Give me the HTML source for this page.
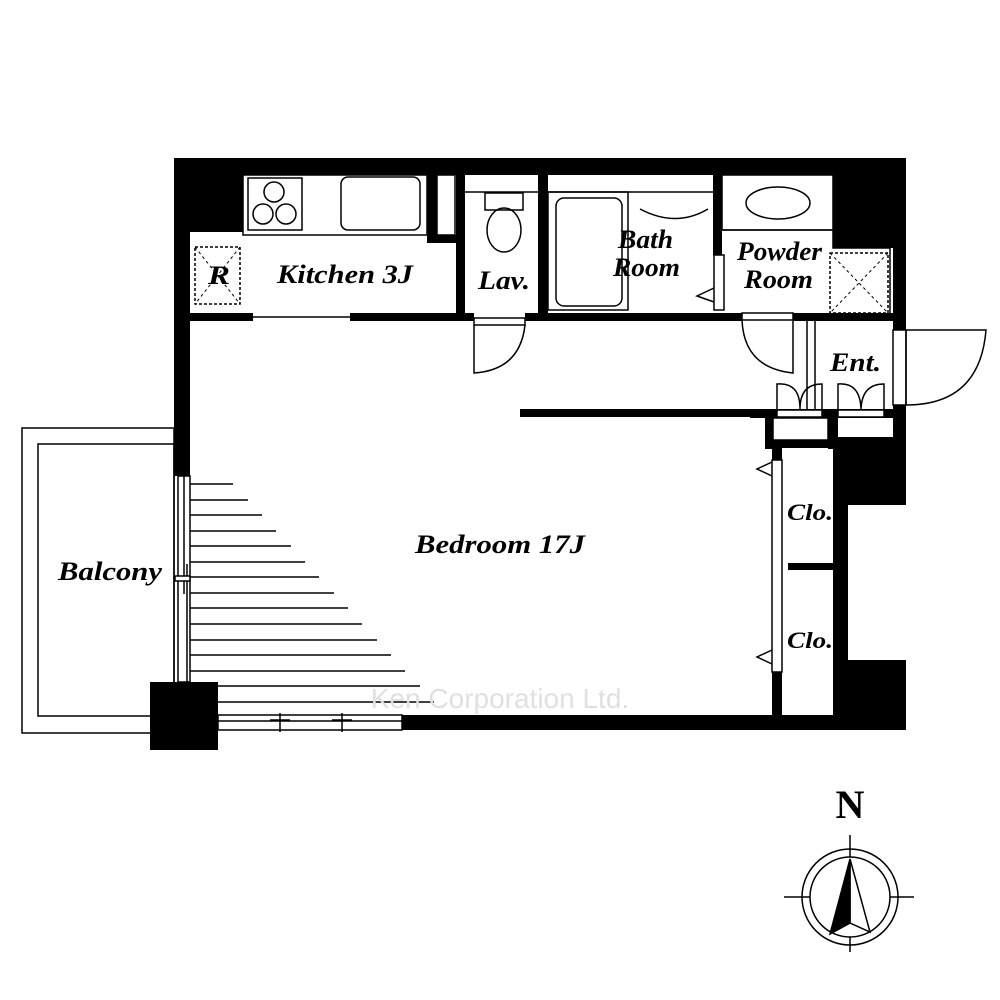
<!DOCTYPE html>
<html><head><style>html,body{margin:0;padding:0;background:#fff}svg{display:block}</style></head><body>
<svg width="1000" height="1000" viewBox="0 0 1000 1000" xmlns="http://www.w3.org/2000/svg">
<g fill="#000">
<rect x="174" y="158" width="732" height="17"/>
<rect x="174" y="158" width="69" height="74"/>
<rect x="174" y="158" width="16" height="318"/>
<rect x="833" y="158" width="73" height="90"/>
<rect x="893" y="158" width="13" height="172"/>
<rect x="427" y="175" width="10" height="68"/>
<rect x="427" y="235" width="30" height="8"/>
<rect x="456" y="175" width="9" height="143"/>
<rect x="538" y="175" width="10" height="143"/>
<rect x="713" y="175" width="9" height="80"/>
<rect x="190" y="313" width="63" height="8"/>
<rect x="350" y="313" width="124" height="8"/>
<rect x="525" y="313" width="217" height="8"/>
<rect x="793" y="313" width="100" height="8"/>
<rect x="520" y="409" width="245" height="8"/>
<rect x="750" y="409" width="143" height="9"/>
<rect x="765" y="409" width="8" height="40"/>
<rect x="765" y="440" width="73" height="8"/>
<rect x="828" y="409" width="10" height="40"/>
<rect x="893" y="405" width="13" height="40"/>
<rect x="838" y="437" width="68" height="68"/>
<rect x="772" y="445" width="10" height="15"/>
<rect x="772" y="672" width="10" height="45"/>
<rect x="833" y="437" width="15" height="280"/>
<rect x="848" y="660" width="58" height="70"/>
<rect x="788" y="563" width="45" height="7"/>
<rect x="402" y="715" width="448" height="15"/>
<rect x="150" y="682" width="68" height="68"/>
</g>
<g fill="#fff" stroke="#000" stroke-width="1.5">
<rect x="777" y="410" width="45" height="7"/>
<rect x="838" y="410" width="46" height="7"/>
</g>
<g fill="none" stroke="#000" stroke-width="1.5">
<rect x="243" y="175" width="184" height="60"/>
<rect x="248" y="178" width="54" height="52"/>
<circle cx="274" cy="192" r="10"/><circle cx="263" cy="214" r="10"/><circle cx="286" cy="214" r="10"/>
<rect x="341" y="177" width="79" height="53" rx="7"/>
<rect x="437" y="175" width="18" height="60"/>
<rect x="195" y="247" width="45" height="57" stroke-dasharray="3,2"/>
<path d="M195 247 L240 304 M240 247 L195 304" stroke-dasharray="3,3" stroke-width="1"/>
<line x1="253" y1="317" x2="350" y2="317"/>
<line x1="465" y1="192" x2="538" y2="192"/>
<rect x="485" y="193" width="38" height="17"/>
<ellipse cx="504" cy="230" rx="17" ry="22"/>
<line x1="548" y1="192" x2="713" y2="192"/>
<rect x="548" y="192" width="80" height="118"/>
<rect x="556" y="198" width="66" height="108" rx="8"/>
<path d="M640 209 Q676 228 708 209"/>
<rect x="714" y="255" width="10" height="55" fill="#fff"/>
<path d="M714 288 L697 296 L714 302"/>
<rect x="722" y="175" width="111" height="55"/>
<ellipse cx="778" cy="203" rx="32" ry="16"/>
<path d="M722 230 L833 230 L833 248 L890 248 L890 313"/>
<rect x="830" y="253" width="58" height="60" stroke-dasharray="3,2"/>
<path d="M830 253 L888 313 M888 253 L830 313" stroke-dasharray="3,3" stroke-width="1"/>
<rect x="474" y="318" width="51" height="7"/>
<path d="M474 325 L474 373 Q520 370 525 325"/>
<rect x="742" y="313" width="51" height="7"/>
<path d="M793 320 L793 373 Q744 368 742 320"/>
<line x1="807" y1="321" x2="807" y2="409"/><line x1="815" y1="321" x2="815" y2="409"/>
<path d="M777 409 L777 384 Q800 382 800 409 Q800 384 822 384 L822 409"/>
<path d="M838 409 L838 384 Q860 382 861 409 Q862 384 884 384 L884 409"/>
<rect x="893" y="330" width="13" height="75" fill="#fff"/>
<path d="M906 330 L906 405 Q980 405 986 330 Z"/>
<rect x="773" y="418" width="55" height="22"/>
<rect x="772" y="460" width="10" height="212" fill="#fff"/>
<path d="M772 462 L757 469 L772 476 M772 650 L757 657 L772 664"/>
<rect x="22" y="428" width="152" height="305"/>
<rect x="38" y="444" width="136" height="272"/>
<rect x="178" y="476" width="12" height="206" fill="#fff"/>
<line x1="184" y1="476" x2="184" y2="594"/>
<line x1="187" y1="564" x2="187" y2="682"/>
<rect x="175" y="576" width="15" height="5" fill="#fff"/>
<rect x="218" y="715" width="184" height="15"/>
<line x1="218" y1="721" x2="402" y2="721"/>
<path d="M280 713 V732 M270 720 H290 M342 713 V732 M332 720 H352"/>
</g>
<g stroke="#000" stroke-width="1.5">
<line x1="190" y1="484" x2="233" y2="484"/><line x1="190" y1="500" x2="248" y2="500"/>
<line x1="190" y1="515" x2="262" y2="515"/><line x1="190" y1="531" x2="276" y2="531"/>
<line x1="190" y1="546" x2="291" y2="546"/><line x1="190" y1="562" x2="305" y2="562"/>
<line x1="190" y1="577" x2="319" y2="577"/><line x1="190" y1="593" x2="334" y2="593"/>
<line x1="190" y1="608" x2="348" y2="608"/><line x1="190" y1="624" x2="362" y2="624"/>
<line x1="190" y1="640" x2="377" y2="640"/><line x1="190" y1="655" x2="391" y2="655"/>
<line x1="190" y1="671" x2="405" y2="671"/><line x1="218" y1="686" x2="420" y2="686"/>
<line x1="218" y1="702" x2="434" y2="702"/>
</g>
<text x="500" y="708" font-family="Liberation Sans, sans-serif" font-size="28" fill="#e0e0e0" text-anchor="middle">Ken Corporation Ltd.</text>
<g font-family="Liberation Serif, serif" font-weight="bold" font-style="italic" font-size="26" fill="#000" lengthAdjust="spacingAndGlyphs">
<text x="208" y="284" textLength="22" lengthAdjust="spacingAndGlyphs">R</text>
<text x="277" y="283" textLength="136" lengthAdjust="spacingAndGlyphs">Kitchen 3J</text>
<text x="478" y="289" textLength="52" lengthAdjust="spacingAndGlyphs">Lav.</text>
<text x="618" y="248" textLength="55" lengthAdjust="spacingAndGlyphs">Bath</text>
<text x="613" y="276" textLength="67" lengthAdjust="spacingAndGlyphs">Room</text>
<text x="737" y="260" textLength="85" lengthAdjust="spacingAndGlyphs">Powder</text>
<text x="744" y="288" textLength="69" lengthAdjust="spacingAndGlyphs">Room</text>
<text x="830" y="371" textLength="51" lengthAdjust="spacingAndGlyphs">Ent.</text>
<text x="415" y="553" textLength="170" lengthAdjust="spacingAndGlyphs">Bedroom 17J</text>
<text x="58" y="580" textLength="104" lengthAdjust="spacingAndGlyphs">Balcony</text>
<text x="787" y="520" font-size="23" textLength="46" lengthAdjust="spacingAndGlyphs">Clo.</text>
<text x="787" y="648" font-size="23" textLength="46" lengthAdjust="spacingAndGlyphs">Clo.</text>
</g>
<text x="850" y="818" font-family="Liberation Serif, serif" font-weight="bold" font-size="40" text-anchor="middle">N</text>
<g fill="none" stroke="#000" stroke-width="1.5">
<circle cx="850" cy="897" r="48"/><circle cx="850" cy="897" r="40"/>
<path d="M850 835 V857 M850 937 V952 M784 897 H810 M890 897 H914"/>
<path d="M850 859 L870 932 L850 923 Z"/>
</g>
<path d="M850 859 L830 934 L850 923 Z" fill="#000" stroke="#000" stroke-width="1.5"/>
</svg>
</body></html>
